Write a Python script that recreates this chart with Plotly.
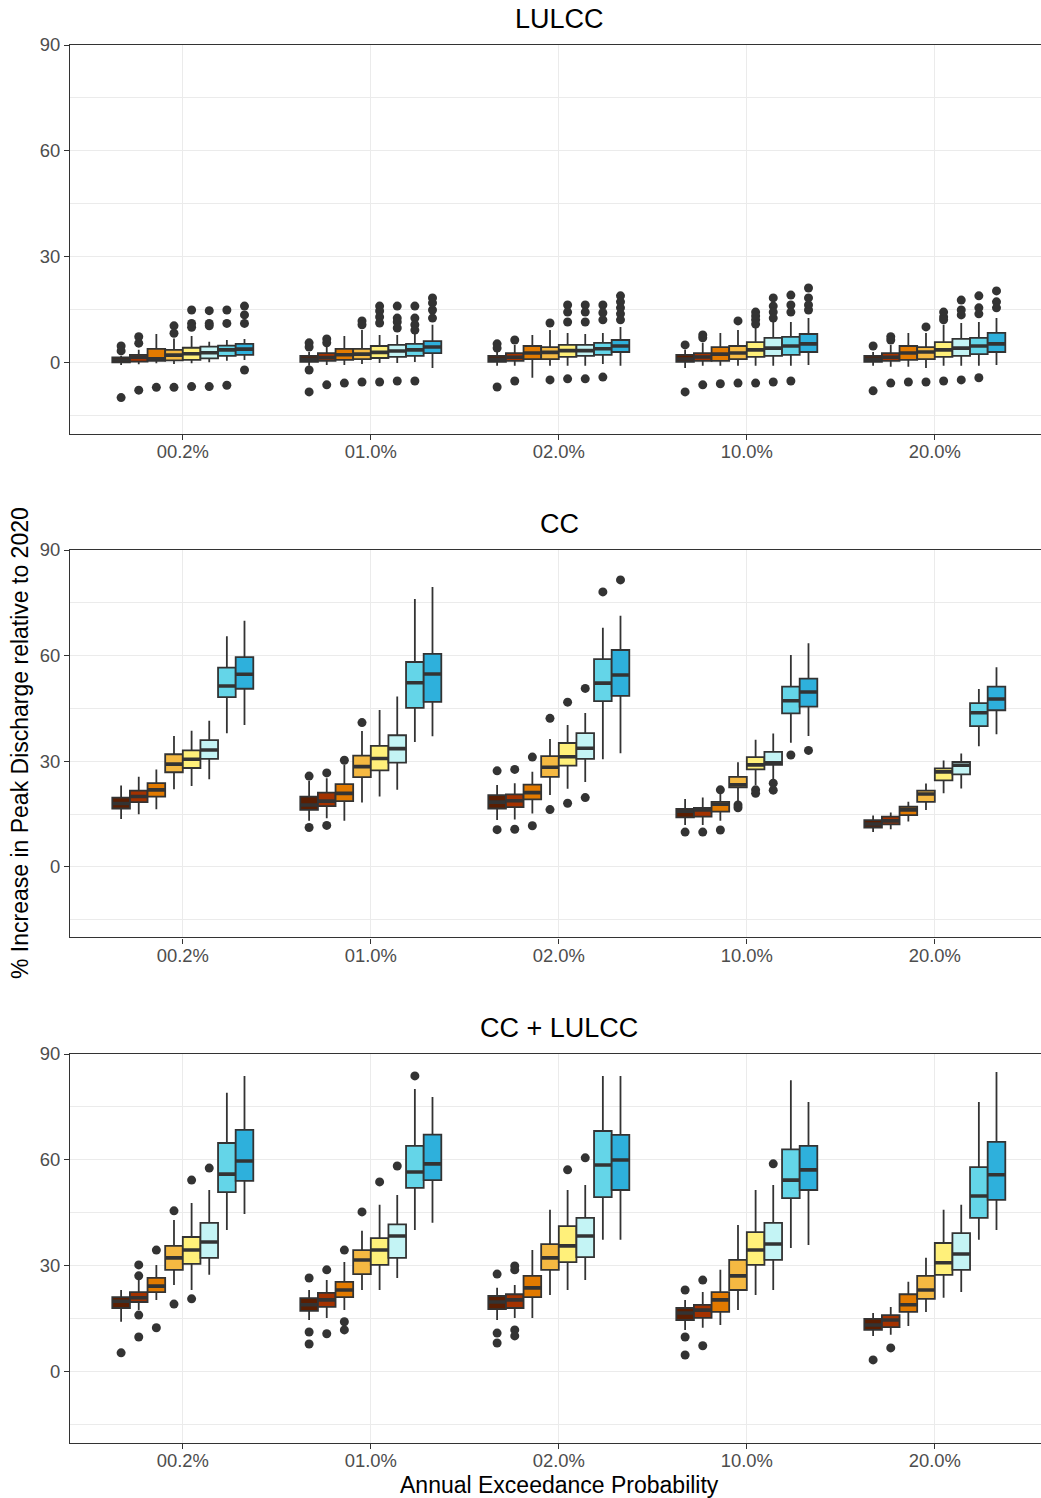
import plotly.graph_objects as go

# ---------------------------------------------------------------------------
# Data: box statistics per panel, indexed [category][series]
# ---------------------------------------------------------------------------
CATEGORIES = ["00.2%", "01.0%", "02.0%", "10.0%", "20.0%"]
PANELS = ["LULCC", "CC", "CC + LULCC"]
SERIES = ["S1", "S2", "S3", "S4", "S5", "S6", "S7", "S8"]
FILLS = ["#5A1E02", "#A33200", "#E27A00", "#F5B942",
         "#FFF07A", "#C4F4F5", "#64D5E8", "#2EB0DC"]

# --- LULCC -----------------------------------------------------------------
LULCC_LO = [[-0.6, -0.4, -0.1, -0.3, -0.1, 0.2, 0.6, 0.85],
            [-0.8, -0.6, -0.6, -0.3, 0.0, 0.0, 0.3, -1.4],
            [-0.8, -0.8, -4.2, -0.8, -0.8, -0.8, -0.3, -0.8],
            [-1.4, -0.8, -0.8, -0.8, -0.8, -0.8, -0.8, -0.6],
            [-0.8, -1.1, -1.1, -1.4, -0.8, -0.8, -0.8, -0.6]]
LULCC_Q1 = [[0.2, 0.4, 0.6, 0.7, 0.85, 1.3, 2.0, 2.3],
            [0.3, 0.6, 0.85, 1.1, 1.4, 1.7, 2.0, 2.8],
            [0.3, 0.6, 1.1, 1.1, 1.7, 2.0, 2.3, 3.1],
            [0.3, 0.6, 0.6, 1.1, 1.7, 2.0, 2.3, 3.1],
            [0.3, 0.6, 0.85, 1.1, 1.7, 2.0, 2.5, 3.1]]
LULCC_MED = [[0.85, 1.6, 1.2, 2.2, 2.6, 2.9, 3.7, 3.9],
             [1.0, 1.5, 2.3, 2.5, 3.0, 3.4, 3.7, 4.5],
             [1.0, 1.6, 2.8, 3.0, 3.5, 3.5, 4.0, 4.8],
             [1.1, 1.7, 2.5, 2.8, 3.7, 4.2, 4.8, 5.4],
             [1.0, 1.6, 2.8, 3.1, 3.7, 4.2, 4.8, 5.4]]
LULCC_Q3 = [[1.6, 2.3, 4.0, 3.7, 4.3, 4.6, 4.9, 5.4],
            [2.0, 2.8, 4.0, 4.0, 4.8, 5.1, 5.4, 6.2],
            [2.0, 2.8, 4.8, 4.5, 5.1, 5.1, 5.7, 6.5],
            [2.3, 2.8, 4.5, 4.8, 5.9, 7.1, 7.4, 8.2],
            [2.0, 2.8, 4.8, 4.5, 5.9, 6.8, 7.1, 8.5]]
LULCC_HI = [[2.0, 3.7, 8.2, 6.9, 7.6, 6.0, 6.5, 6.8],
            [3.1, 4.5, 7.6, 9.3, 7.9, 7.9, 8.5, 10.8],
            [3.1, 5.1, 7.9, 9.3, 8.5, 8.2, 8.5, 10.2],
            [3.7, 5.7, 8.5, 9.3, 10.8, 11.6, 11.6, 12.7],
            [3.1, 5.1, 8.5, 8.5, 10.8, 11.3, 11.6, 12.7]]
LULCC_OUT = [
    [[4.8, 3.4, -9.8], [7.4, 5.6, -7.7], [-6.9], [10.5, 8.4, -6.9],
     [15.0, 11.2, 10.1, -6.7], [14.8, 11.2, 10.5, -6.7], [15.0, 11.2, -6.3],
     [16.1, 13.6, 11.2, -2.0]],
    [[5.7, 4.5, -2.0, -8.2], [6.8, 5.7, -6.2], [-5.7], [11.9, 10.8, -5.4],
     [16.1, 14.7, 13.0, 11.3, -5.4], [16.1, 12.7, 11.6, 9.9, -5.1],
     [16.1, 12.7, 10.8, 9.3, -5.1], [18.4, 17.0, 15.0, 12.7]],
    [[5.4, 4.2, -6.8], [6.5, -5.1], [], [11.3, -4.8],
     [16.4, 14.4, 11.6, -4.5], [16.4, 14.4, 11.6, -4.5],
     [16.4, 14.2, 12.2, -4.0], [19.0, 17.3, 15.6, 13.9, 12.2]],
    [[5.1, -8.2], [7.9, 7.1, -6.2], [-5.9], [11.9, -5.7],
     [14.4, 13.3, 12.2, 11.0, -5.7], [18.4, 16.1, 14.4, 12.7, -5.4],
     [19.2, 16.4, 14.4, -5.1], [21.2, 18.4, 16.4, 15.0]],
    [[4.8, -7.9], [7.4, 6.5, -5.7], [-5.4], [10.2, -5.4],
     [14.4, 13.0, 12.2, -5.1], [17.8, 15.0, 13.6, -4.8],
     [19.0, 15.6, 13.9, -4.2], [20.4, 17.3, 15.6]],
]

# --- CC --------------------------------------------------------------------
CC_LO = [[13.6, 15.0, 16.4, 22.1, 23.0, 24.9, 38.0, 40.3],
         [13.1, 13.8, 13.1, 18.3, 20.0, 21.9, 35.5, 37.1],
         [13.3, 13.5, 15.2, 20.4, 22.2, 24.1, 30.6, 32.3],
         [11.9, 11.9, 13.1, 18.7, 23.3, 24.7, 35.3, 37.2],
         [9.9, 10.7, 12.9, 16.2, 20.9, 22.3, 34.3, 37.7]]
CC_Q1 = [[16.6, 18.4, 20.0, 26.9, 28.1, 30.7, 48.2, 50.6],
         [16.2, 17.3, 18.7, 25.5, 27.4, 29.6, 45.2, 46.9],
         [16.6, 17.0, 19.2, 25.6, 28.8, 30.7, 47.1, 48.6],
         [14.1, 14.3, 15.7, 22.6, 27.7, 29.0, 43.6, 45.5],
         [11.2, 12.1, 14.7, 18.5, 24.6, 26.3, 40.0, 44.5]]
CC_MED = [[18.0, 20.0, 21.9, 29.2, 30.6, 33.2, 51.4, 54.7],
          [17.6, 18.7, 20.9, 28.5, 30.8, 33.6, 52.3, 54.8],
          [18.4, 18.8, 21.1, 28.3, 31.3, 33.7, 52.2, 54.5],
          [15.8, 16.2, 17.8, 23.3, 29.0, 29.6, 47.2, 49.7],
          [12.2, 13.1, 16.2, 20.7, 27.0, 28.9, 43.8, 47.7]]
CC_Q3 = [[19.7, 21.7, 23.8, 32.0, 33.1, 36.0, 56.6, 59.6],
         [20.0, 21.1, 23.5, 31.6, 34.4, 37.4, 58.2, 60.5],
         [20.4, 20.6, 23.4, 31.5, 35.2, 38.0, 59.0, 61.6],
         [16.5, 16.8, 18.5, 25.6, 31.2, 32.7, 51.2, 53.5],
         [13.3, 14.3, 17.1, 21.7, 28.0, 29.8, 46.5, 51.2]]
CC_HI = [[23.1, 25.6, 27.7, 37.2, 38.7, 41.5, 65.5, 69.9],
         [24.5, 25.2, 29.0, 38.6, 44.6, 48.4, 76.1, 79.5],
         [23.3, 23.8, 27.0, 36.3, 40.3, 43.7, 67.9, 71.3],
         [19.3, 19.7, 21.0, 29.7, 36.1, 37.9, 60.2, 63.5],
         [14.6, 15.5, 18.5, 23.7, 30.2, 32.2, 50.5, 56.7]]
CC_OUT = [
    [[], [], [], [], [], [], [], []],
    [[25.8, 11.2], [26.7, 11.8], [30.3], [41.0], [], [], [], []],
    [[27.3, 10.6], [27.7, 10.7], [31.2, 11.7], [42.2, 16.3], [46.8, 18.1],
     [50.7, 19.7], [78.1], [81.5]],
    [[9.9], [9.9], [21.9, 10.5], [17.6, 16.8], [21.9, 20.9], [23.8, 21.8],
     [31.8], [33.1]],
    [[], [], [], [], [], [], [], []],
]

# --- CC + LULCC --------------------------------------------------------------
BOTH_LO = [[14.2, 17.5, 20.4, 24.6, 23.2, 27.5, 40.2, 44.7],
           [14.7, 15.3, 17.5, 23.2, 23.2, 26.6, 40.2, 42.2],
           [14.7, 15.3, 15.3, 21.8, 23.2, 26.0, 37.4, 37.4],
           [11.9, 12.5, 13.3, 17.5, 21.8, 23.2, 35.1, 35.9],
           [10.2, 10.5, 13.0, 17.0, 21.0, 22.6, 37.4, 40.2]]
BOTH_Q1 = [[18.1, 19.8, 22.6, 28.9, 30.6, 32.3, 50.9, 54.1],
           [17.3, 18.4, 21.2, 27.7, 30.3, 32.3, 52.1, 54.3],
           [17.8, 18.1, 21.2, 28.9, 31.1, 32.5, 49.5, 51.5],
           [14.7, 15.3, 17.0, 23.2, 30.3, 31.7, 49.2, 51.5],
           [11.9, 12.7, 17.0, 20.7, 27.5, 28.9, 43.6, 48.7]]
BOTH_MED = [[20.0, 21.0, 24.3, 32.3, 34.5, 36.8, 56.0, 59.7],
            [19.0, 20.4, 23.2, 31.7, 34.5, 38.5, 56.6, 58.9],
            [19.8, 20.4, 23.8, 32.3, 35.7, 38.5, 58.6, 60.0],
            [16.7, 17.5, 20.4, 27.2, 34.5, 36.2, 54.3, 57.2],
            [13.3, 14.7, 19.0, 23.2, 30.9, 33.4, 49.8, 55.8]]
BOTH_Q3 = [[21.2, 22.6, 26.6, 35.7, 38.2, 42.2, 64.8, 68.5],
           [20.9, 22.4, 25.5, 34.5, 37.9, 41.8, 64.0, 67.2],
           [21.5, 22.0, 27.2, 36.2, 41.3, 43.6, 68.2, 67.1],
           [18.1, 19.0, 22.6, 31.7, 39.6, 42.2, 63.0, 64.0],
           [15.0, 16.1, 22.0, 27.2, 36.5, 39.3, 58.0, 65.1]]
BOTH_HI = [[23.2, 26.0, 30.3, 43.0, 47.8, 51.5, 79.0, 83.8],
           [23.2, 26.0, 31.1, 40.0, 47.3, 50.1, 80.1, 77.8],
           [23.8, 24.6, 34.5, 45.9, 51.5, 52.9, 83.8, 83.8],
           [20.4, 22.6, 28.9, 41.6, 51.5, 52.9, 82.6, 76.4],
           [16.7, 18.4, 25.5, 32.3, 45.9, 47.3, 76.4, 84.9]]
BOTH_OUT = [
    [[5.4], [30.3, 27.2, 16.1, 9.9], [34.5, 12.5], [45.6, 19.2], [54.3, 20.7],
     [57.7], [], []],
    [[26.6, 11.3, 7.9], [28.9, 10.8], [34.5, 14.2, 11.9], [45.3], [53.8],
     [58.3], [83.8], []],
    [[27.7, 11.0, 8.2], [30.0, 28.9, 11.9, 10.2], [], [], [57.2], [60.6], [], []],
    [[23.2, 9.9, 4.8], [26.0, 7.4], [], [], [], [58.9], [], []],
    [[3.4], [6.8], [], [], [], [], [], []],
]

PANEL_STATS = [
    (LULCC_LO, LULCC_Q1, LULCC_MED, LULCC_Q3, LULCC_HI, LULCC_OUT),
    (CC_LO, CC_Q1, CC_MED, CC_Q3, CC_HI, CC_OUT),
    (BOTH_LO, BOTH_Q1, BOTH_MED, BOTH_Q3, BOTH_HI, BOTH_OUT),
]

Y_TICKS = [0, 30, 60, 90]
Y_MINOR = [-15, 15, 45, 75]

# ---------------------------------------------------------------------------
# Styling / layout
# ---------------------------------------------------------------------------
W, H = 1041, 1498
INK = "#333333"
GRID = "#EBEBEB"
TICK_TXT = "#4D4D4D"
FONT = "Liberation Sans, Arial, Helvetica, sans-serif"

DODGE = 0.75
N_SER = len(SERIES)
BOX_W = DODGE / N_SER

# panel pixel extents (top, bottom) in the page
PANEL_PX = [(45, 433.6), (550, 937.4), (1054, 1442.6)]
X_LEFT_PX = 70

fig = go.Figure()

for p, (lo, q1, med, q3, hi, out) in enumerate(PANEL_STATS):
    xa = "x" if p == 0 else f"x{p + 1}"
    ya = "y" if p == 0 else f"y{p + 1}"
    med_x, med_y, out_x, out_y = [], [], [], []
    for j in range(N_SER):
        xs = [i + 1 + (j - (N_SER - 1) / 2) * BOX_W for i in range(len(CATEGORIES))]
        fig.add_trace(go.Box(
            x=xs,
            lowerfence=[lo[i][j] for i in range(len(CATEGORIES))],
            q1=[q1[i][j] for i in range(len(CATEGORIES))],
            median=[med[i][j] for i in range(len(CATEGORIES))],
            q3=[q3[i][j] for i in range(len(CATEGORIES))],
            upperfence=[hi[i][j] for i in range(len(CATEGORIES))],
            width=BOX_W,
            whiskerwidth=0,
            boxpoints=False,
            fillcolor=FILLS[j],
            line=dict(color=INK, width=1.8),
            name=SERIES[j],
            showlegend=False,
            xaxis=xa, yaxis=ya,
        ))
        for i, xc in enumerate(xs):
            med_x += [xc - BOX_W / 2, xc + BOX_W / 2, None]
            med_y += [med[i][j], med[i][j], None]
            for v in out[i][j]:
                out_x.append(xc)
                out_y.append(v)
    # thick median bars
    fig.add_trace(go.Scatter(
        x=med_x, y=med_y, mode="lines",
        line=dict(color=INK, width=3.6),
        showlegend=False, hoverinfo="skip",
        xaxis=xa, yaxis=ya,
    ))
    # outliers
    fig.add_trace(go.Scatter(
        x=out_x, y=out_y, mode="markers",
        marker=dict(color=INK, size=9, line=dict(width=0)),
        showlegend=False,
        xaxis=xa, yaxis=ya,
    ))

x_dom = [X_LEFT_PX / W, 1.0]
x_range = [0.4, 0.4 + (W - X_LEFT_PX) / 188.0]

layout = dict(
    width=W, height=H,
    margin=dict(l=0, r=0, t=0, b=0, autoexpand=False),
    paper_bgcolor="white",
    plot_bgcolor="white",
    font=dict(family=FONT),
    showlegend=False,
)

annotations = []
for p, (top, bot) in enumerate(PANEL_PX):
    sfx = "" if p == 0 else str(p + 1)
    layout[f"xaxis{sfx}"] = dict(
        domain=x_dom, range=x_range, anchor=f"y{sfx}",
        automargin=False,
        tickmode="array", tickvals=list(range(1, len(CATEGORIES) + 1)),
        ticktext=CATEGORIES,
        showgrid=True, gridcolor=GRID, gridwidth=1.2,
        zeroline=False,
        showline=True, linecolor=INK, linewidth=1.2, mirror=True,
        ticks="outside", ticklen=5, tickcolor=INK, tickwidth=1.2,
        ticklabelstandoff=-4,
        tickfont=dict(size=18.4, color=TICK_TXT, family=FONT),
    )
    layout[f"yaxis{sfx}"] = dict(
        domain=[1 - bot / H, 1 - top / H], range=[-20, 90],
        anchor=f"x{sfx}",
        automargin=False,
        tickmode="array", tickvals=Y_TICKS,
        showgrid=True, gridcolor=GRID, gridwidth=1.2,
        minor=dict(tickmode="array", tickvals=Y_MINOR, showgrid=True,
                   gridcolor=GRID, gridwidth=0.6, ticks=""),
        zeroline=False,
        showline=True, linecolor=INK, linewidth=1.2, mirror=False,
        ticks="outside", ticklen=5, tickcolor=INK, tickwidth=1.2,
        tickfont=dict(size=18.4, color=TICK_TXT, family=FONT),
    )
    annotations.append(dict(
        text=PANELS[p], xref="paper", yref="paper",
        x=559 / W, y=1 - (top - 26) / H,
        xanchor="center", yanchor="middle", showarrow=False,
        font=dict(size=27, color="black", family=FONT),
    ))

annotations.append(dict(
    text="Annual Exceedance Probability", xref="paper", yref="paper",
    x=559 / W, y=1 - 1485 / H, xanchor="center", yanchor="middle",
    showarrow=False, font=dict(size=23, color="black", family=FONT),
))
annotations.append(dict(
    text="% Increase in Peak Discharge relative to 2020", xref="paper",
    yref="paper", x=20 / W, y=1 - 743 / H, xanchor="center",
    yanchor="middle", textangle=-90, showarrow=False,
    font=dict(size=23, color="black", family=FONT),
))
layout["annotations"] = annotations

fig.update_layout(**layout)
fig.write_html("out.html")
